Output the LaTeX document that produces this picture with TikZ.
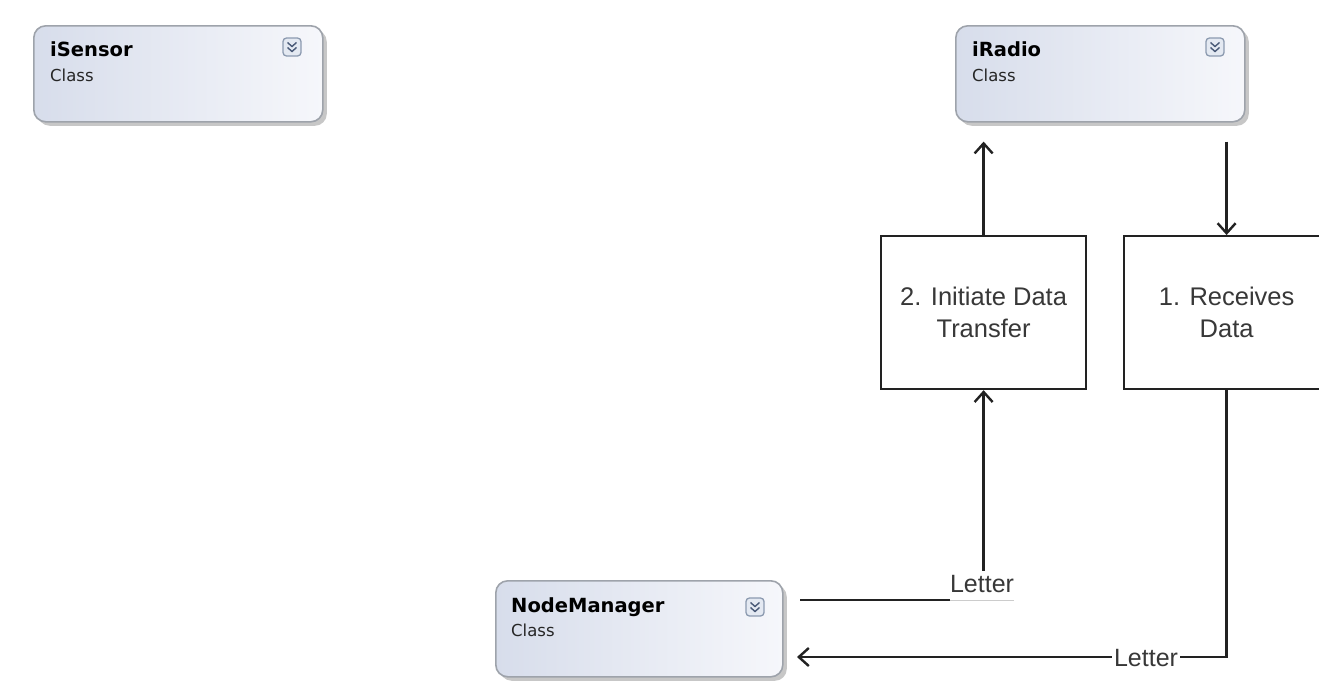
\documentclass[tikz,border=0pt]{standalone}
\usepackage{fontspec}
\setmainfont{Liberation Sans}
\newfontfamily\dejavu{DejaVu Sans}
\usetikzlibrary{arrows.meta,shadows,calc}
\definecolor{clsL}{HTML}{D7DDEB}
\definecolor{clsR}{HTML}{F6F7FB}
\definecolor{clsBorder}{HTML}{9EA3AB}
\definecolor{ink}{HTML}{222222}
\definecolor{iconFill}{HTML}{E4E9F2}
\definecolor{iconBorder}{HTML}{8C9AB0}
\definecolor{iconInk}{HTML}{4A5A78}
\tikzset{
  classbox/.style={rectangle, rounded corners=12pt, draw=clsBorder, line width=1.6pt,
    left color=clsL, right color=clsR, shading angle=90,
    drop shadow={shadow xshift=4pt, shadow yshift=-4pt, fill=black!40, opacity=0.55},
    minimum width=289pt, minimum height=96pt, anchor=north west, inner sep=0pt},
  classname/.style={anchor=base west, inner sep=0pt, font=\dejavu\bfseries\fontsize{19.5}{22}\selectfont, text=black},
  classkind/.style={anchor=base west, inner sep=0pt, font=\dejavu\fontsize{16.5}{19}\selectfont, text=black!85},
  iconbox/.style={rectangle, rounded corners=3.5pt, draw=iconBorder, line width=1.3pt, fill=iconFill,
    minimum width=18pt, minimum height=18pt, inner sep=0pt},
  stepbox/.style={rectangle, draw=ink, line width=2.2pt, fill=white, minimum width=205pt, minimum height=153pt,
    anchor=north west, align=center, inner sep=0pt, font=\fontsize{25.5}{32}\selectfont, text=black!78},
  lbl/.style={inner sep=0pt, font=\fontsize{25}{28}\selectfont, text=black!78},
  conn/.style={draw=ink, line width=2.4pt},
  arr/.style={conn, -{Straight Barb[length=10pt, width=18pt, line width=2.4pt]}},
}
\newcommand{\chev}[1]{%
  \draw[iconInk, line width=1.4pt] ($(#1)+(-4.5,-4.5)$) -- ($(#1)+(0,-0.5)$) -- ($(#1)+(4.5,-4.5)$);
  \draw[iconInk, line width=1.4pt] ($(#1)+(-4.5,0.5)$) -- ($(#1)+(0,4.5)$) -- ($(#1)+(4.5,0.5)$);
}
\begin{document}
\begin{tikzpicture}[x=1pt, y=-1pt]
\useasboundingbox (0,0) rectangle (1319,697);
\fill[white] (0,0) rectangle (1319,697);
\clip (0,0) rectangle (1319,697);

% class boxes
\node[classbox] (sensor) at (33,25) {};
\node[classname] (sensorname) at (50,56) {iSensor};
\node[classkind] (sensorkind) at (50,81) {Class};
\node[iconbox] (sensoricon) at (292,47) {};
\chev{sensoricon}

\node[classbox] (radio) at (955,25) {};
\node[classname] (radioname) at (972,56) {iRadio};
\node[classkind] (radiokind) at (972,81) {Class};
\node[iconbox] (radioicon) at (1215,47) {};
\chev{radioicon}

\node[classbox, minimum width=287pt] (nm) at (495,580) {};
\node[classname] (nmname) at (511,612) {NodeManager};
\node[classkind] (nmkind) at (511,636) {Class};
\node[iconbox] (nmicon) at (755,607) {};
\chev{nmicon}

% step boxes
\node[stepbox] (init) at (880,235) {2. Initiate Data\\Transfer};
\node[stepbox] (recv) at (1123,235) {1. Receives\\Data};

% connectors at top
\draw[arr, shorten >=19pt] (init.north) -- (init.north |- radio.south);
\draw[arr, shorten <=19pt] (recv.north |- radio.south) -- (recv.north);

% Letter from NodeManager to Initiate
\node[lbl, anchor=base] (L1) at (982,592) {Letter};
\coordinate (c1) at (800,600);
\draw[conn] (c1) -- (L1.west |- c1);
\draw[black!20, line width=1pt] (L1.west |- c1) -- (L1.east |- c1);
\draw[arr] ($(init.south |- L1.north)+(0,-4)$) -- (init.south);

% Letter from Receives to NodeManager
\node[lbl, anchor=center] (L2) at (1146,658) {Letter};
\coordinate (c2) at (797,657);
\draw[conn] (recv.south) |- ($(L2.east)+(2,-1)$);
\draw[arr] ($(L2.west)+(-2,-1)$) -- (c2);
\end{tikzpicture}
\end{document}
